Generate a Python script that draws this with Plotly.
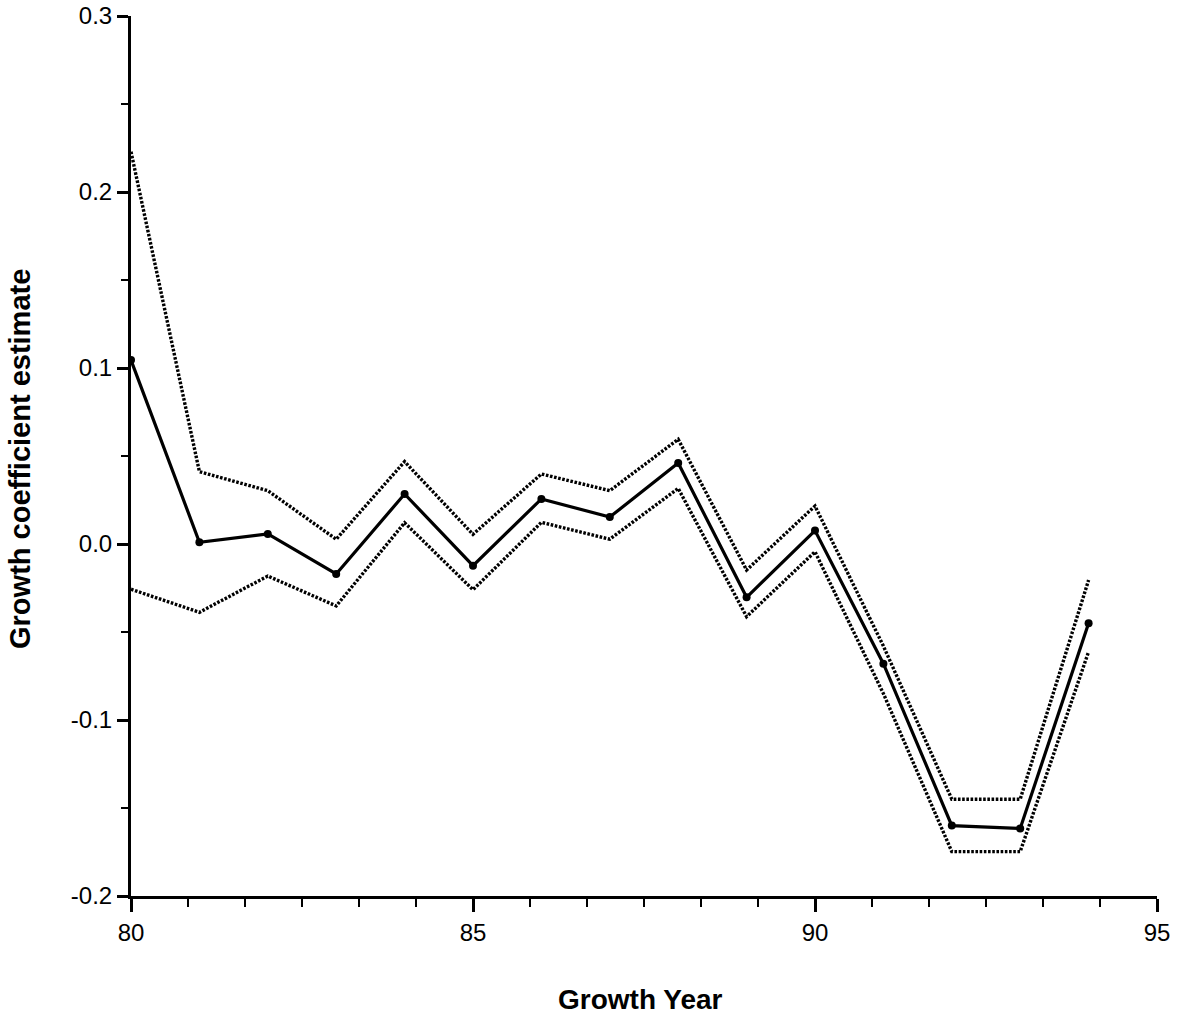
import plotly.graph_objects as go

# ---- data ----
years = [80, 81, 82, 83, 84, 85, 86, 87, 88, 89, 90, 91, 92, 93, 94]
estimate = [0.1045, 0.001, 0.0057, -0.017, 0.0284, -0.0123, 0.0256, 0.0153,
            0.046, -0.0303, 0.0076, -0.068, -0.160, -0.1616, -0.045]
upper = [0.2229, 0.0411, 0.0303, 0.0027, 0.0468, 0.0055, 0.0398, 0.0303,
         0.0595, -0.0148, 0.0216, -0.058, -0.145, -0.145, -0.0205]
lower = [-0.0257, -0.0388, -0.0182, -0.0352, 0.0121, -0.026, 0.0123, 0.0027,
         0.0316, -0.0413, -0.0044, -0.085, -0.1748, -0.1748, -0.0612]

x_tickvals = [80, 85, 90, 95]
x_ticktext = ["80", "85", "90", "95"]
y_tickvals = [0.3, 0.2, 0.1, 0.0, -0.1, -0.2]
y_ticktext = ["0.3", "0.2", "0.1", "0.0", "-0.1", "-0.2"]

x_title = "Growth Year"
y_title = "Growth coefficient estimate"

FONT = "Liberation Sans, Arial, Helvetica, sans-serif"

fig = go.Figure()
for band in (upper, lower):
    fig.add_trace(go.Scatter(
        x=years, y=band, mode="lines",
        line=dict(color="black", width=3.4, dash="2.6px,1.6px"),
        showlegend=False, hoverinfo="skip"))
fig.add_trace(go.Scatter(
    x=years, y=estimate, mode="lines+markers",
    line=dict(color="black", width=3.2),
    marker=dict(color="black", size=8),
    showlegend=False))

axis_common = dict(
    showgrid=False, zeroline=False, showline=True, automargin=False,
    linecolor="black", linewidth=3,
    ticks="outside", tickcolor="black", tickwidth=2.5,
    tickfont=dict(family=FONT, size=24, color="black"),
)

fig.update_xaxes(
    **axis_common,
    range=[80, 95], tickvals=x_tickvals, ticktext=x_ticktext, ticklen=13,
    minor=dict(ticks="outside", tick0=80, dtick=5 / 6, ticklen=8,
               tickwidth=2, tickcolor="black"),
)
fig.update_yaxes(
    **axis_common,
    range=[-0.2, 0.3], tickvals=y_tickvals, ticktext=y_ticktext, ticklen=11,
    minor=dict(ticks="outside", tick0=-0.2, dtick=0.05, ticklen=7,
               tickwidth=2, tickcolor="black"),
)

fig.add_annotation(text=x_title, xref="paper", yref="paper",
                   x=0.497, y=-0.118, xanchor="center", yanchor="middle",
                   showarrow=False,
                   font=dict(family=FONT, size=28, color="black", weight="bold"))
fig.add_annotation(text=y_title, xref="paper", yref="paper",
                   x=-0.1082, y=0.4966, xanchor="center", yanchor="middle",
                   textangle=-90, showarrow=False,
                   font=dict(family=FONT, size=29, color="black", weight="bold"))

fig.update_layout(
    width=1177, height=1023, autosize=False,
    margin=dict(l=131, r=20, t=16, b=127, pad=0, autoexpand=False),
    plot_bgcolor="white", paper_bgcolor="white",
)

fig.write_html(
    "out.html",
    config={"displayModeBar": False},
    post_script="document.body.style.margin='0';"
                "document.body.style.padding='0';"
                "document.body.style.overflow='hidden';"
                "document.documentElement.style.overflow='hidden';",
)
